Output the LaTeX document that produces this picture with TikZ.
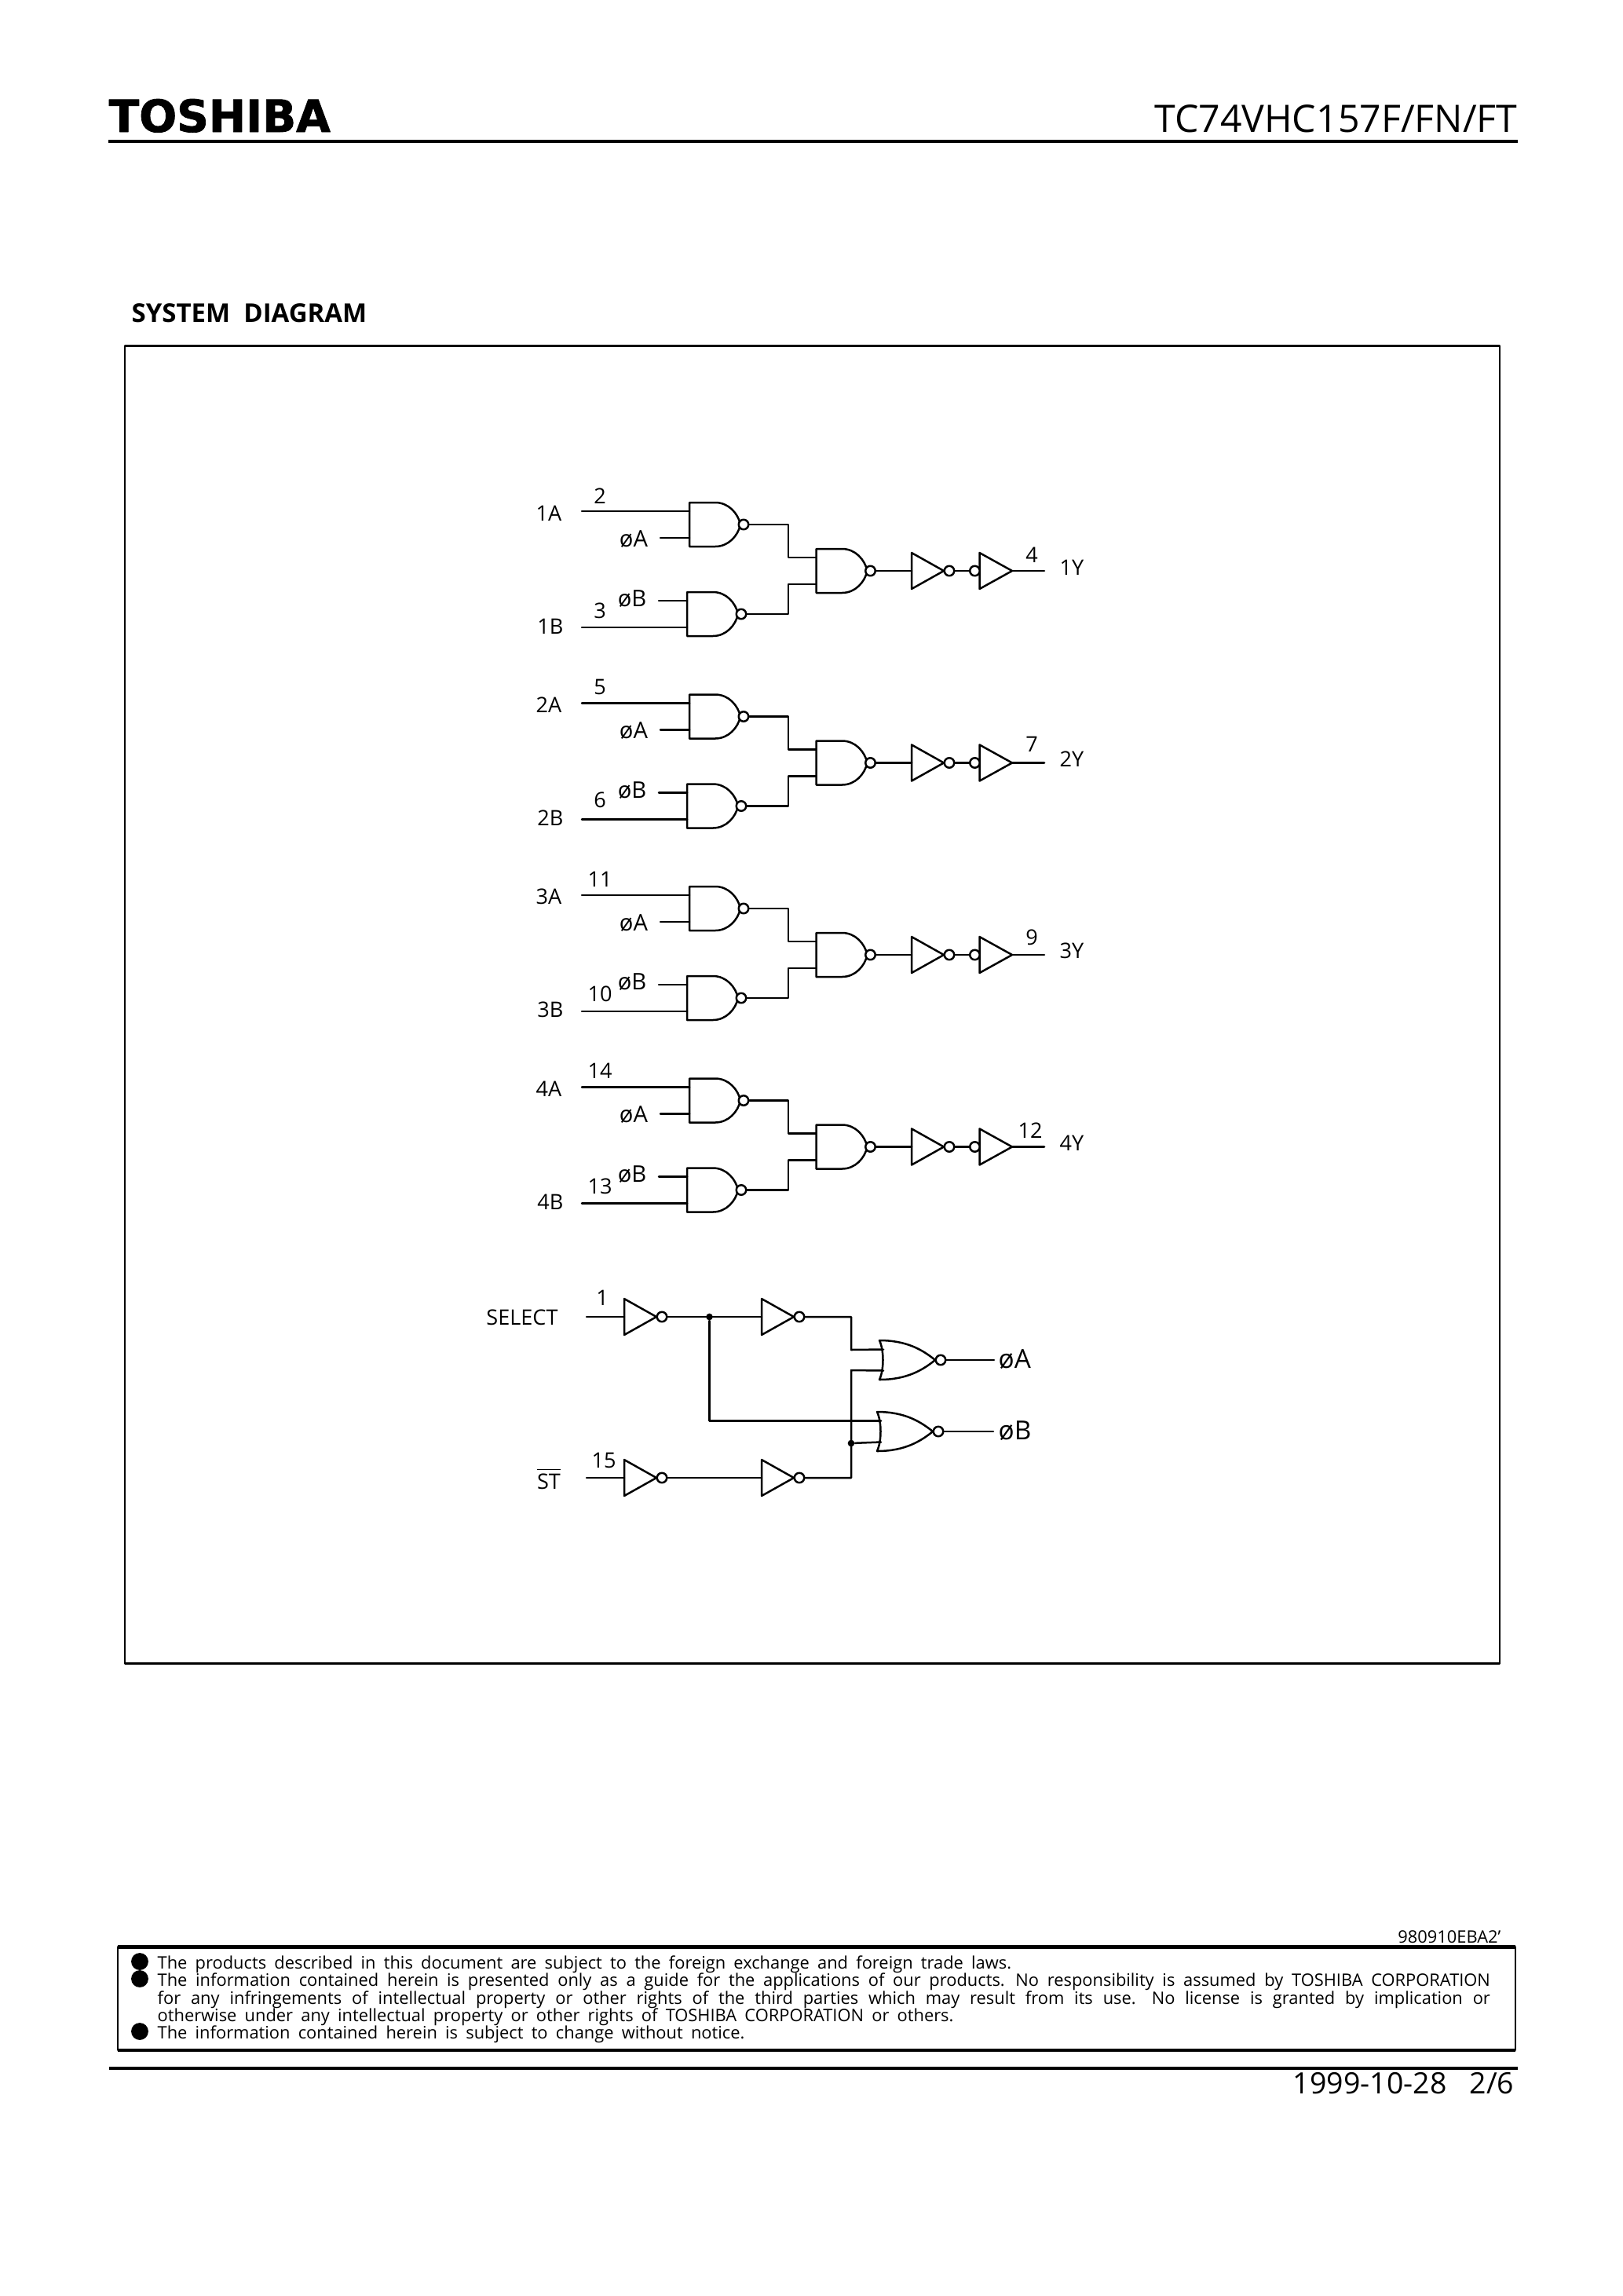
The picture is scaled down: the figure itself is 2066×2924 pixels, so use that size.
\documentclass[tikz,border=0pt]{standalone}
\usepackage{xcolor}
\usepackage{graphicx}
\usepackage{fontspec}
\usepackage{tikz}
\setmainfont{Open Sans}
\newfontfamily\logofont{DejaVu Sans}
\newfontfamily\footfont[WordSpace=1.8]{Open Sans}
\usetikzlibrary{calc}
\tikzstyle{every node}=[inner sep=0pt,font=\fontsize{7.8}{9}\selectfont]
\tikzstyle{wire}=[line width=0.72pt]
\tikzstyle{bubble}=[circle,draw,line width=0.72pt,fill=white,minimum size=3.6pt]
\tikzstyle{junction}=[circle,fill=black,minimum size=2.5pt]
\tikzstyle{sellabel}=[font=\fontsize{8.4}{10}\selectfont]
\tikzstyle{footline}=[anchor=base west,font=\footfont\fontsize{6.3}{7}\selectfont]
\tikzstyle{footdot}=[circle,fill=black,minimum size=6.3pt]
\tikzset{
  nandgate/.pic={
    \draw [wire] (0,-28)-- (33,-28) .. controls (50,-28) and (62,-14) .. (65,0) .. controls (62,14) and (50,28) .. (33,28)-- (0,28)-- cycle;
    \coordinate (-in1) at (0,-17);
    \coordinate (-in2) at (0,17);
    \node [bubble] (-out) at (69,0) {};
  },
  inverter/.pic={
    \draw [wire] (0,-23)-- (41,0)-- (0,23)-- cycle;
    \coordinate (-in) at (0,0);
    \node [bubble] (-out) at (48,0) {};
  },
  inputinverter/.pic={
    \draw [wire] (0,-23)-- (41.5,0)-- (0,23)-- cycle;
    \node [bubble] (-in) at (-6,0) {};
    \coordinate (-out) at (41.5,0);
  },
  norgate/.pic={
    \draw [wire] (0,-25) .. controls (6,-12) and (6,12) .. (0,25) .. controls (36,25) and (56,12) .. (71,0) .. controls (56,-12) and (36,-25) .. (0,-25)-- cycle;
    \coordinate (-in1) at (5,-13.5);
    \coordinate (-in2) at (5,13.5);
    \node [bubble] (-out) at (78,0) {};
  },
  muxrow/.pic={
    \pic (upper) at (878,668) {nandgate};
    \pic (lower) at (875,782) {nandgate};
    \pic (merge) at (1039.5,727) {nandgate};
    \pic (invone) at (1161,727) {inverter};
    \pic (invtwo) at (1247.5,727) {inputinverter};
    \coordinate (-ina) at (741,651);
    \coordinate (-inb) at (741,799);
    \coordinate (-sela) at (841,685);
    \coordinate (-selb) at (839,765);
    \coordinate (-y) at (1330,727);
    \coordinate (-bendup) at (1004,668);
    \coordinate (-benddn) at (1004,782);
    \draw [wire] (-ina)-- (upper-in1);
    \draw [wire] (-sela)-- (upper-in2);
    \draw [wire] (-selb)-- (lower-in1);
    \draw [wire] (-inb)-- (lower-in2);
    \draw [wire] (upper-out.east)-- (-bendup) |- (merge-in1);
    \draw [wire] (lower-out.east)-- (-benddn) |- (merge-in2);
    \draw [wire] (merge-out.east)-- (invone-in);
    \draw [wire] (invone-out.east)-- (invtwo-in.west);
    \draw [wire] (invtwo-out)-- (-y);
  }
}

\begin{document}
\begin{tikzpicture}[line cap=round,line join=round,x=0.28813pt,y=-0.28813pt]
\useasboundingbox (0,0) rectangle (2066,2924);

\node [anchor=base west] (logo) at (138,168) {\resizebox{81.3pt}{12.1pt}{\logofont\bfseries\addfontfeature{FakeBold=1.5}TOSHIBA}};
\node [anchor=base east,font=\fontsize{13.9}{16}\selectfont] (partno) at (1933,168) {TC74VHC157F/FN/FT};
\coordinate (headl) at (138,180);
\coordinate (headr) at (1933,180);
\draw [line width=0.9pt,line cap=butt] (headl)-- (headr);
\node [anchor=base west,font=\fontsize{9.5}{11}\selectfont\bfseries] (title) at (167,410) {SYSTEM\ \ DIAGRAM};
\draw [line width=0.85pt] (159,440.5) rectangle (1910,2118);

\pic (r1) at (0,0) {muxrow};
\pic (r2) at (0,244.5) {muxrow};
\pic (r3) at (0,489) {muxrow};
\pic (r4) at (0,733.5) {muxrow};

\node (l1a) at (699,654) {1A};
\node (l1b) at (701,798) {1B};
\node (l1y) at (1365,723) {1Y};
\node (p2) at (764,632) {2};
\node (p3) at (764,778) {3};
\node (p4) at (1314,707) {4};
\node [sellabel] (s1a) at (807,687) {øA};
\node [sellabel] (s1b) at (805,763) {øB};

\node (l2a) at (699,898) {2A};
\node (l2b) at (701,1042) {2B};
\node (l2y) at (1365,967) {2Y};
\node (p5) at (764,875) {5};
\node (p6) at (764,1019) {6};
\node (p7) at (1314,948) {7};
\node [sellabel] (s2a) at (807,931) {øA};
\node [sellabel] (s2b) at (805,1007) {øB};

\node (l3a) at (699,1142) {3A};
\node (l3b) at (701,1286) {3B};
\node (l3y) at (1365,1211) {3Y};
\node (p11) at (764,1120) {11};
\node (p10) at (764,1266) {10};
\node (p9) at (1314,1194) {9};
\node [sellabel] (s3a) at (807,1176) {øA};
\node [sellabel] (s3b) at (805,1251) {øB};

\node (l4a) at (699,1387) {4A};
\node (l4b) at (701,1531) {4B};
\node (l4y) at (1365,1456) {4Y};
\node (p14) at (764,1364) {14};
\node (p13) at (764,1511) {13};
\node (p12) at (1312,1440) {12};
\node [sellabel] (s4a) at (807,1420) {øA};
\node [sellabel] (s4b) at (805,1496) {øB};

\pic (i1) at (795,1677) {inverter};
\pic (i2) at (970,1677) {inverter};
\pic (i3) at (795,1882) {inverter};
\pic (i4) at (970,1882) {inverter};
\pic (oa) at (1120,1732) {norgate};
\pic (ob) at (1117,1823) {norgate};
\node [junction] (j1) at (903.5,1677) {};
\node [junction] (j2) at (1084,1838) {};
\coordinate (selin) at (747,1677);
\coordinate (stin) at (747,1882);
\coordinate (k1) at (1084,1719);
\coordinate (k2) at (1084,1745);
\coordinate (oaend) at (1266,1732);
\coordinate (obend) at (1265,1823);
\draw [wire] (selin)-- (i1-in);
\draw [wire] (i1-out.east)-- (i2-in);
\draw [wire] (i2-out.east) -| (k1)-- (oa-in1);
\draw [wire] (stin)-- (i3-in);
\draw [wire] (i3-out.east)-- (i4-in);
\draw [wire] (i4-out.east) -| (k2)-- (oa-in2);
\draw [wire] (j1) |- (ob-in1);
\draw [wire] (j2)-- (ob-in2);
\draw [wire] (oa-out.east)-- (oaend);
\draw [wire] (ob-out.east)-- (obend);

\node (select) at (665,1678) {SELECT};
\node (st) at (699,1883) {$\overline{\mbox{ST}}$};
\node (p1) at (767,1653) {1};
\node (p15) at (769,1860) {15};
\node [anchor=west,font=\fontsize{9.6}{11}\selectfont] (outa) at (1271,1731) {øA};
\node [anchor=west,font=\fontsize{9.6}{11}\selectfont] (outb) at (1271,1822) {øB};

\node [anchor=base east,font=\fontsize{6.3}{7}\selectfont] (docno) at (1912,2474) {980910EBA2'};
\draw [line width=0.8pt] (150,2479.5) rectangle (1930,2611);
\draw [line width=1.3pt,line cap=butt] (150,2479.5)-- (1930,2479.5);
\draw [line width=1.3pt,line cap=butt] (150,2611)-- (1930,2611);
\node [footdot] (d1) at (178,2498) {};
\node [footdot] (d2) at (178,2520) {};
\node [footdot] (d3) at (178,2587) {};
\node [footline] (f1) at (200,2507) {The products described in this document are subject to the foreign exchange and foreign trade laws.};
\node [footline] (f2) at (200,2529) {\makebox[489pt][s]{The information contained herein is presented only as a guide for the applications of our products. No responsibility is assumed by TOSHIBA CORPORATION}};
\node [footline] (f3) at (200,2552) {\makebox[489pt][s]{for any infringements of intellectual property or other rights of the third parties which may result from its use. No license is granted by implication or}};
\node [footline] (f4) at (200,2574) {otherwise under any intellectual property or other rights of TOSHIBA CORPORATION or others.};
\node [footline] (f5) at (200,2596) {The information contained herein is subject to change without notice.};
\draw [line width=1.1pt,line cap=butt] (139,2634)-- (1933,2634);
\node [anchor=base east,font=\fontsize{10.8}{13}\selectfont] (date) at (1929,2666) {1999-10-28\ \ \ 2/6};
\end{tikzpicture}
\end{document}
